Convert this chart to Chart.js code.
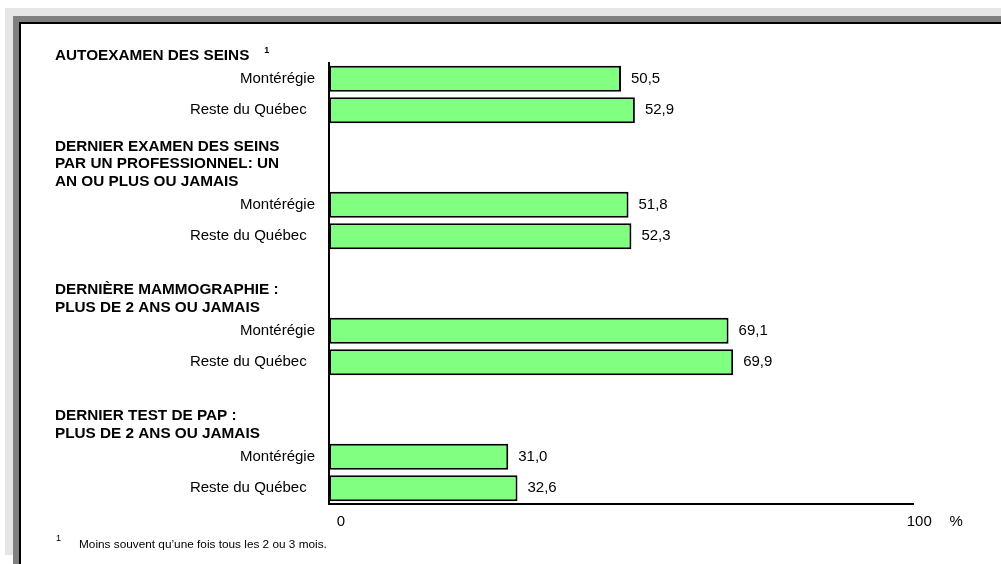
<!DOCTYPE html>
<html><head><meta charset="utf-8">
<script src="https://cdn.jsdelivr.net/npm/chart.js@4/dist/chart.umd.min.js"></script>
<style>
html,body{margin:0;padding:0;background:#fff;width:1001px;height:564px;overflow:hidden;}
.fr{position:absolute;}
#f1{left:5px;top:8px;width:996px;height:547px;background:#e6e6e6;}
#f2{left:13px;top:16px;width:988px;height:548px;background:#808080;}
#f3{left:19px;top:22px;width:982px;height:542px;background:#000;}
#f4{left:21px;top:24px;width:980px;height:540px;background:#fff;}
#c{position:absolute;left:0;top:0;}
</style></head>
<body>
<div class="fr" id="f1"></div><div class="fr" id="f2"></div><div class="fr" id="f3"></div><div class="fr" id="f4"></div>
<canvas id="c" width="1001" height="564"></canvas>
<script>
// ---- data ----
const regions = ["Montérégie", "Reste du Québec"];
const groupHeaders = [
  ["AUTOEXAMEN DES SEINS"],
  ["DERNIER EXAMEN DES SEINS", "PAR UN PROFESSIONNEL: UN", "AN OU PLUS OU JAMAIS"],
  ["DERNIÈRE MAMMOGRAPHIE :", "PLUS DE 2 ANS OU JAMAIS"],
  ["DERNIER TEST DE PAP :", "PLUS DE 2 ANS OU JAMAIS"]
];
const headerNotes = ["1", "", "", ""];
const monteregieValues = [50.5, 51.8, 69.1, 31.0];
const resteQuebecValues = [52.9, 52.3, 69.9, 32.6];
const xTickValues = [0, 100];
const unitLabel = "%";
const footnoteMark = "1";
const footnoteText = "Moins souvent qu’une fois tous les 2 ou 3 mois.";

// ---- build slots: M, R, spacer, spacer per group ----
const categories = [];
const values = [];
const groupStart = [];
groupHeaders.forEach((h, g) => {
  if (g > 0) { categories.push("", ""); values.push(null, null); }
  groupStart.push(categories.length);
  categories.push(regions[0], regions[1]);
  values.push(monteregieValues[g], resteQuebecValues[g]);
});

const FONT = "'Liberation Sans', Arial, sans-serif";

const decorPlugin = {
  id: 'decor',
  afterDatasetsDraw(chart) {
    const ctx = chart.ctx;
    const meta = chart.getDatasetMeta(0);
    ctx.save();
    ctx.fillStyle = '#000';
    ctx.font = '15px ' + FONT;
    ctx.textAlign = 'left';
    ctx.textBaseline = 'middle';
    meta.data.forEach((bar, i) => {
      const v = values[i];
      if (v == null) return;
      ctx.fillText(v.toFixed(1).replace('.', ','), bar.x + 10, bar.y);
    });
    ctx.restore();
  },
  afterDraw(chart) {
    const ctx = chart.ctx;
    const ys = chart.scales.y, xs = chart.scales.x;
    ctx.save();
    ctx.fillStyle = '#000';
    ctx.textBaseline = 'middle';
    ctx.textAlign = 'left';
    groupHeaders.forEach((lines, g) => {
      const yM = ys.getPixelForValue(groupStart[g]);
      const lastY = yM - 23;
      lines.forEach((t, k) => {
        const y = lastY - (lines.length - 1 - k) * 17.5;
        ctx.font = 'bold 15.3px ' + FONT;
        ctx.fillText(t, 55, y);
        if (k === 0 && headerNotes[g]) {
          const w = ctx.measureText(t).width;
          ctx.font = 'bold 9px ' + FONT;
          ctx.fillText(headerNotes[g], 55 + w + 15, y - 5);
        }
      });
    });
    // unit label
    ctx.font = '15px ' + FONT;
    ctx.textAlign = 'center';
    ctx.fillText(unitLabel, xs.getPixelForValue(100) + 49, 522);
    // footnote
    ctx.textAlign = 'left';
    ctx.font = '9px ' + FONT;
    ctx.fillText(footnoteMark, 56, 539);
    ctx.font = '11.8px ' + FONT;
    ctx.fillText(footnoteText, 79, 545);
    ctx.restore();
  }
};

new Chart(document.getElementById('c'), {
  type: 'bar',
  data: {
    labels: categories,
    datasets: [{
      data: values,
      backgroundColor: '#80ff80',
      borderColor: '#000',
      borderWidth: 2,
      borderSkipped: false,
      barPercentage: 0.83,
      categoryPercentage: 1
    }]
  },
  options: {
    indexAxis: 'y',
    responsive: false,
    animation: false,
    devicePixelRatio: 1,
    layout: { padding: { top: 63, right: 88, left: 0, bottom: 0 } },
    plugins: { legend: { display: false }, tooltip: { enabled: false } },
    scales: {
      y: {
        grid: { display: false, drawTicks: false },
        border: { display: true, color: '#000', width: 2 },
        ticks: {
          autoSkip: false, padding: 14, color: '#000',
          font: { family: FONT, size: 15 },
          callback: function (v) {
            const l = this.getLabelForValue(v);
            return l === regions[1] ? l + '\u00a0\u00a0' : l;
          }
        },
        afterFit(s) { s.width = 329; }
      },
      x: {
        min: 0, max: 101,
        grid: { display: false, drawTicks: false },
        border: { display: true, color: '#000', width: 2 },
        ticks: {
          padding: 9, color: '#000', labelOffset: 12,
          font: { family: FONT, size: 15 },
          autoSkip: false, maxRotation: 0
        },
        afterBuildTicks(s) { s.ticks = xTickValues.map(v => ({ value: v })); },
        afterFit(s) { s.height = 60; }
      }
    }
  },
  plugins: [decorPlugin]
});
</script>
</body></html>
